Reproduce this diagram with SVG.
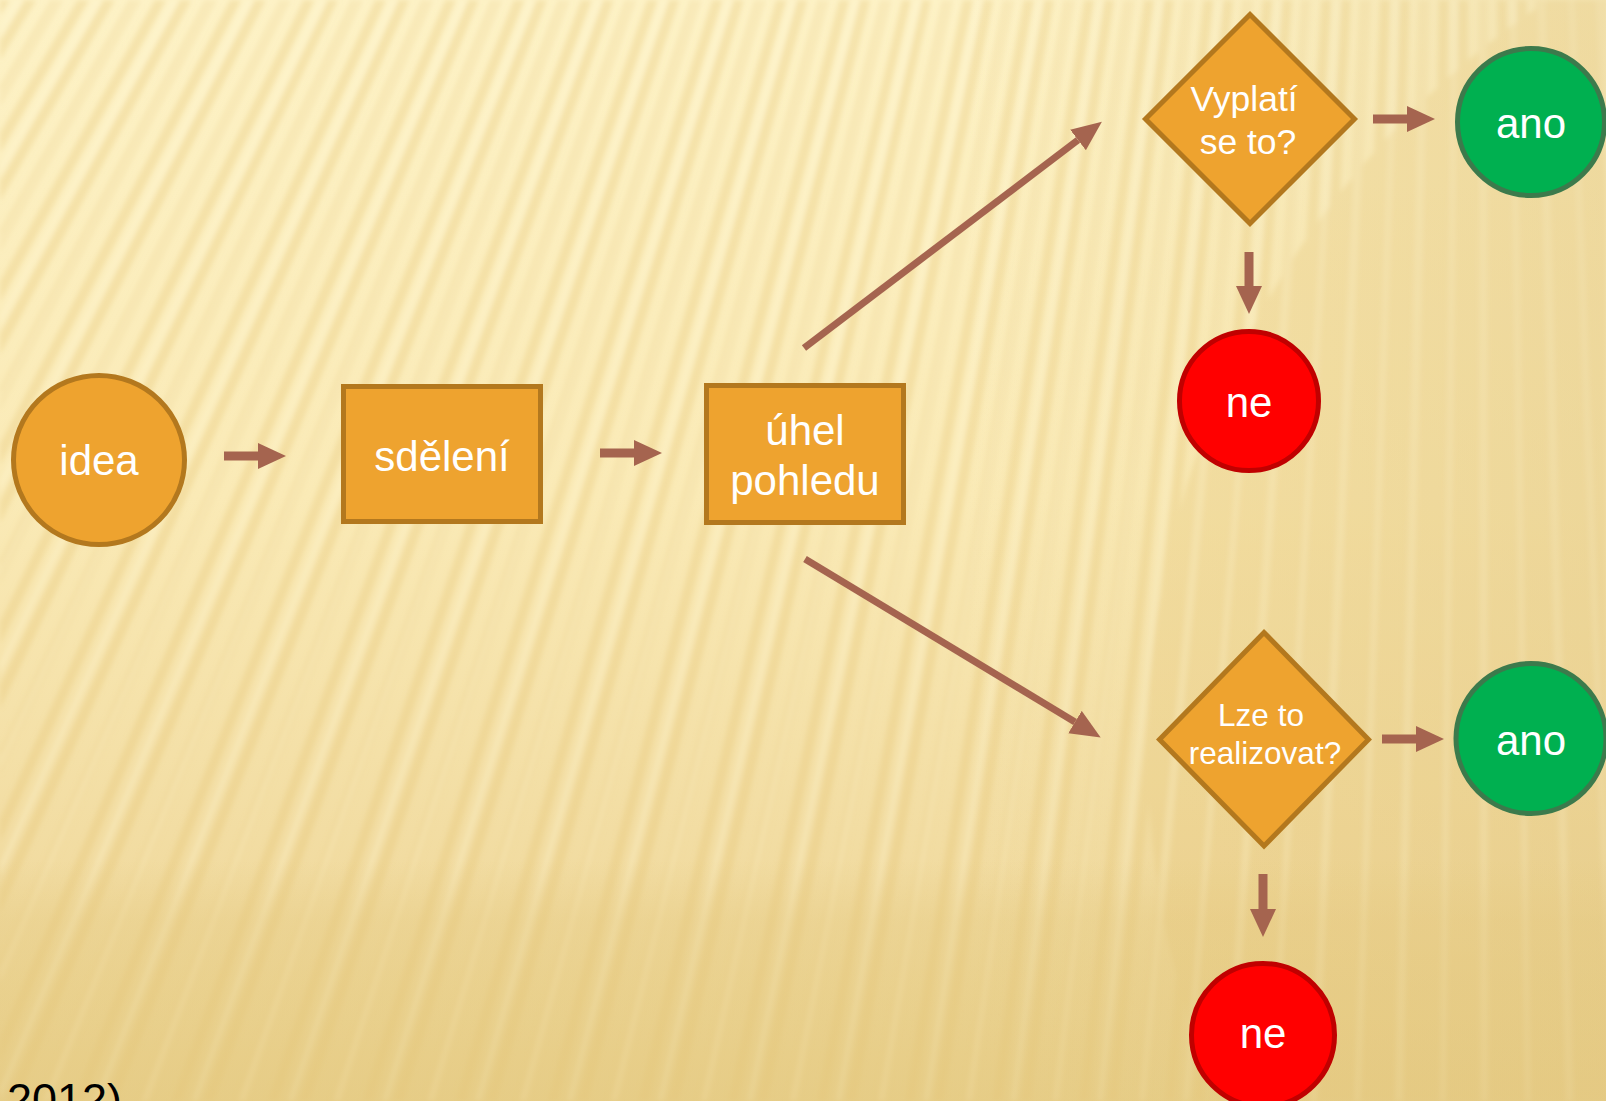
<svg xmlns="http://www.w3.org/2000/svg" width="1606" height="1101" viewBox="0 0 1606 1101">
<defs>
<style>
.txt{font-family:"Liberation Sans",Arial,sans-serif;fill:#FFFFFF;text-anchor:middle}
.org{fill:#EEA32F;stroke:#B3781E;stroke-width:5}
.grn{fill:#00B050;stroke:#3C7A4C;stroke-width:5}
.red{fill:#FF0000;stroke:#C00000;stroke-width:5}
.arr{stroke:#A5644F;fill:none}
</style>
<linearGradient id="bg" x1="0" y1="0" x2="0" y2="1">
<stop offset="0" stop-color="#FDF2C6"/>
<stop offset="0.45" stop-color="#FAEAB6"/>
<stop offset="0.8" stop-color="#F1DBA0"/>
<stop offset="1" stop-color="#E9D18D"/>
</linearGradient>
<linearGradient id="band" x1="0" y1="0" x2="0" y2="1">
<stop offset="0" stop-color="#E3C77E" stop-opacity="0"/>
<stop offset="0.25" stop-color="#E3C77E" stop-opacity="0.3"/>
<stop offset="1" stop-color="#E3C77E" stop-opacity="0.45"/>
</linearGradient>
<linearGradient id="side" x1="0" y1="0" x2="1" y2="0">
<stop offset="0" stop-color="#E8CF8C" stop-opacity="0"/>
<stop offset="0.6" stop-color="#E8CF8C" stop-opacity="0"/>
<stop offset="1" stop-color="#E2C98A" stop-opacity="0.35"/>
</linearGradient>
<filter id="soft" filterUnits="userSpaceOnUse" x="0" y="0" width="1606" height="1101"><feGaussianBlur stdDeviation="2.5"/></filter>
<clipPath id="vp"><rect x="0" y="0" width="1606" height="1101"/></clipPath>
<marker id="head" markerUnits="userSpaceOnUse" markerWidth="30" markerHeight="28" refX="0" refY="13" orient="auto">
<path d="M0,0 L28,13 L0,26 z" fill="#A5644F"/>
</marker>
<marker id="head2" markerUnits="userSpaceOnUse" markerWidth="32" markerHeight="28" refX="0" refY="13" orient="auto">
<path d="M0,0 L30,13 L0,26 z" fill="#A5644F"/>
</marker>
</defs>

<g id="background">
<rect x="0" y="0" width="1606" height="1101" fill="url(#bg)"/>
<g filter="url(#soft)">
<g clip-path="url(#vp)">
<circle cx="1480" cy="-2400" r="3200" fill="none" stroke="#E6C572" stroke-opacity="0.3" stroke-width="1800" stroke-dasharray="10 16"/>
<circle cx="1480" cy="-2400" r="3200" fill="none" stroke="#FFF8DC" stroke-opacity="0.3" stroke-width="1800" stroke-dasharray="5 34 7 32" stroke-dashoffset="12"/>
</g>
</g>
<rect x="0" y="0" width="1606" height="1101" fill="url(#side)"/>
<rect x="0" y="860" width="1606" height="241" fill="url(#band)"/>
</g>

<g id="connectors">
<line class="arr" x1="224" y1="456" x2="258" y2="456" stroke-width="9" marker-end="url(#head)"/>
<line class="arr" x1="600" y1="453" x2="634" y2="453" stroke-width="9" marker-end="url(#head)"/>
<line class="arr" x1="804" y1="348" x2="1078" y2="140" stroke-width="7" marker-end="url(#head2)"/>
<line class="arr" x1="805" y1="559" x2="1075" y2="722" stroke-width="7" marker-end="url(#head2)"/>
<line class="arr" x1="1373" y1="119" x2="1407" y2="119" stroke-width="9" marker-end="url(#head)"/>
<line class="arr" x1="1249" y1="252" x2="1249" y2="286" stroke-width="9" marker-end="url(#head)"/>
<line class="arr" x1="1382" y1="739" x2="1416" y2="739" stroke-width="9" marker-end="url(#head)"/>
<line class="arr" x1="1263" y1="874" x2="1263" y2="909" stroke-width="9" marker-end="url(#head)"/>
</g>

<g id="node-idea">
<ellipse class="org" cx="99" cy="460" rx="85.5" ry="84.5"/>
<text class="txt" x="99" y="475" font-size="42">idea</text>
</g>

<g id="node-sdeleni">
<rect class="org" x="343.5" y="386.5" width="197" height="135"/>
<text class="txt" x="442" y="471" font-size="42">sdělení</text>
</g>

<g id="node-uhel">
<rect class="org" x="706.5" y="385.5" width="197" height="137"/>
<text class="txt" x="805" y="445" font-size="42">úhel</text>
<text class="txt" x="805" y="495" font-size="42">pohledu</text>
</g>

<g id="node-vyplati">
<path class="org" d="M1250,14.5 L1354.5,119 L1250,223.5 L1145.5,119 Z"/>
<text class="txt" x="1244" y="111" font-size="35.5">Vyplatí</text>
<text class="txt" x="1248" y="154" font-size="35.5">se to?</text>
</g>

<g id="node-ano1">
<circle class="grn" cx="1531" cy="122" r="73.5"/>
<text class="txt" x="1531" y="138" font-size="42">ano</text>
</g>

<g id="node-ne1">
<circle class="red" cx="1249" cy="401" r="69.5"/>
<text class="txt" x="1249" y="417" font-size="42">ne</text>
</g>

<g id="node-lze">
<path class="org" d="M1264,632.5 L1368.5,739.5 L1264,846 L1159.5,739.5 Z"/>
<text class="txt" x="1261" y="726" font-size="31.5">Lze to</text>
<text class="txt" x="1265" y="764" font-size="31.5">realizovat?</text>
</g>

<g id="node-ano2">
<circle class="grn" cx="1531" cy="738.5" r="75"/>
<text class="txt" x="1531" y="755" font-size="42">ano</text>
</g>

<g id="node-ne2">
<circle class="red" cx="1263" cy="1035" r="71.5"/>
<text class="txt" x="1263" y="1048" font-size="42">ne</text>
</g>

<text x="7" y="1115" font-family="'Liberation Sans',Arial,sans-serif" font-size="45" fill="#000000">2012)</text>
</svg>
